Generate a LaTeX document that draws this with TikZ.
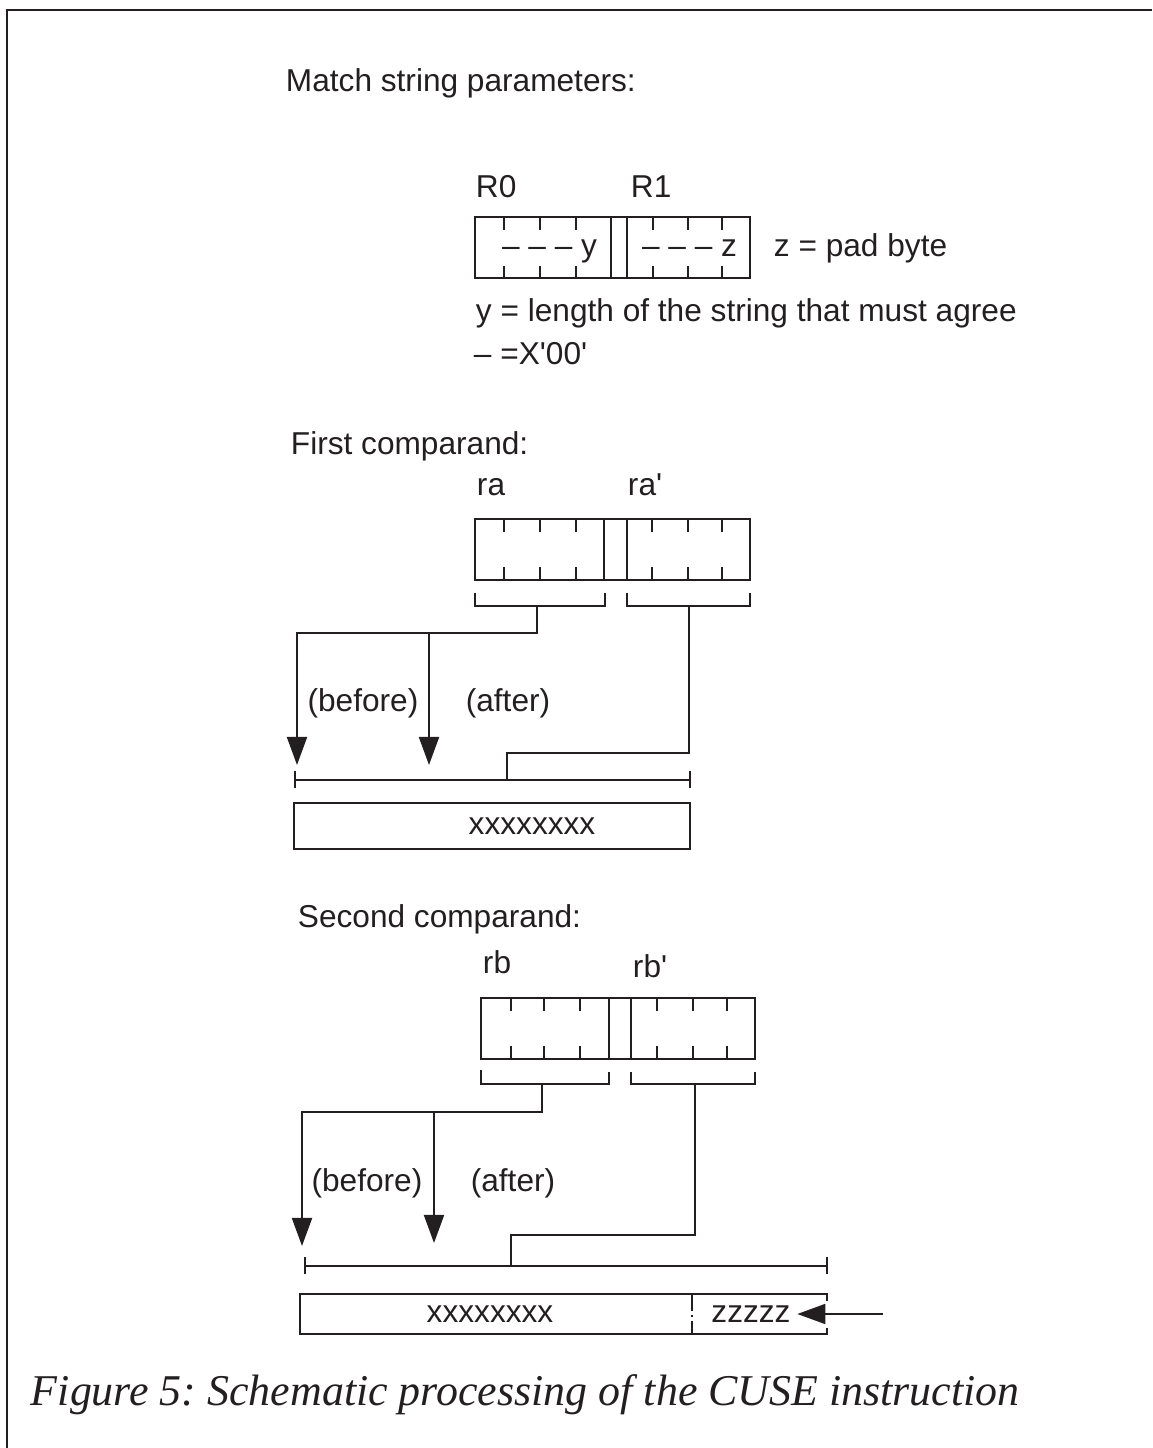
\documentclass[tikz,border=0pt]{standalone}
\usepackage{fontspec}
\setmainfont{Liberation Sans}
\newfontfamily\capfont{Liberation Serif}
\usetikzlibrary{arrows.meta}
\definecolor{CUInk}{HTML}{231F20}

\begin{document}
\begin{tikzpicture}[x=1cm,y=1cm,color=CUInk,line width=1.1pt,
  font=\fontsize{18}{22}\selectfont,
  lbl/.style={anchor=base west,inner sep=0pt},
  feedarrow/.style={-{Triangle[length=0.56cm,width=0.40cm]}},
  rangebar/.style={{Bar[width=0.34cm]}-{Bar[width=0.34cm]}}]
\path[use as bounding box] (0,0) rectangle (23.04,28.96);
\draw (0.14,0) -- (0.14,28.76) -- (23.04,28.76);
% match string parameters
\node[lbl] (mtitle) at (5.70,27.12) {Match string parameters:};
\node[lbl] (r0) at (9.50,25.00) {R0};
\node[lbl] (r1) at (12.60,25.00) {R1};
\draw (9.50,23.40) rectangle (15.00,24.62);
\draw (12.22,23.40) -- (12.22,24.62) (12.54,23.40) -- (12.54,24.62);
\draw (10.08,24.62) -- (10.08,24.36) (10.80,24.62) -- (10.80,24.36) (11.52,24.62) -- (11.52,24.36)
      (13.06,24.62) -- (13.06,24.36) (13.76,24.62) -- (13.76,24.36) (14.44,24.62) -- (14.44,24.36)
      (10.08,23.40) -- (10.08,23.64) (10.80,23.40) -- (10.80,23.64) (11.52,23.40) -- (11.52,23.64)
      (13.06,23.40) -- (13.06,23.64) (13.76,23.40) -- (13.76,23.64) (14.44,23.40) -- (14.44,23.64);
\node[lbl,anchor=base east] (ylen) at (11.96,23.82) {– – – y};
\node[lbl,anchor=base east] (zbyte) at (14.76,23.82) {– – – z};
\node[lbl] (padnote) at (15.46,23.82) {z = pad byte};
\node[lbl] (ynote) at (9.50,22.52) {y = length of the string that must agree};
\node[lbl] (zeronote) at (9.46,21.66) {– =X\textquotesingle 00\textquotesingle};
% first comparand
\node[lbl] (ftitle) at (5.80,19.86) {First comparand:};
\node[lbl] (ra) at (9.52,19.04) {ra};
\node[lbl] (rap) at (12.54,19.04) {ra\textquotesingle};
\draw (9.50,17.36) rectangle (15.00,18.58);
\draw (12.08,17.36) -- (12.08,18.58) (12.54,17.36) -- (12.54,18.58);
\draw (10.08,18.58) -- (10.08,18.32) (10.80,18.58) -- (10.80,18.32) (11.52,18.58) -- (11.52,18.32)
      (13.04,18.58) -- (13.04,18.32) (13.76,18.58) -- (13.76,18.32) (14.44,18.58) -- (14.44,18.32)
      (10.08,17.36) -- (10.08,17.62) (10.80,17.36) -- (10.80,17.62) (11.52,17.36) -- (11.52,17.62)
      (13.04,17.36) -- (13.04,17.62) (13.76,17.36) -- (13.76,17.62) (14.44,17.36) -- (14.44,17.62);
\draw (9.50,17.10) |- (12.10,16.84) -- (12.10,17.10);
\draw (12.54,17.10) |- (15.00,16.84) -- (15.00,17.10);
\coordinate (stemA) at (10.74,16.84);
\coordinate (forkA) at (10.74,16.30);
\coordinate (befA) at (5.94,13.66);
\coordinate (aftA) at (8.58,13.66);
\coordinate (stemAp) at (13.78,16.84);
\coordinate (bendAp) at (13.78,13.90);
\coordinate (hitA) at (10.14,13.36);
\coordinate (rngA0) at (5.88,13.36);
\coordinate (rngA1) at (13.82,13.36);
\draw[feedarrow] (stemA) -- (forkA) -| (befA);
\draw[feedarrow] (aftA |- forkA) -- (aftA);
\draw (stemAp) -- (bendAp) -| (hitA);
\draw[rangebar] (rngA0) -- (rngA1);
\node (befAlbl) at (7.26,14.90) {(before)};
\node (aftAlbl) at (10.16,14.90) {(after)};
\draw (5.88,11.98) rectangle (13.80,12.90);
\node (dataA) at (10.64,12.44) {xxxxxxxx};
% second comparand
\node[lbl] (stitle) at (5.94,10.40) {Second comparand:};
\node[lbl] (rb) at (9.64,9.48) {rb};
\node[lbl] (rbp) at (12.64,9.40) {rb\textquotesingle};
\draw (9.62,7.78) rectangle (15.10,9.00);
\draw (12.18,7.78) -- (12.18,9.00) (12.62,7.78) -- (12.62,9.00);
\draw (10.22,9.00) -- (10.22,8.74) (10.88,9.00) -- (10.88,8.74) (11.60,9.00) -- (11.60,8.74)
      (13.14,9.00) -- (13.14,8.74) (13.86,9.00) -- (13.86,8.74) (14.54,9.00) -- (14.54,8.74)
      (10.22,7.78) -- (10.22,8.04) (10.88,7.78) -- (10.88,8.04) (11.60,7.78) -- (11.60,8.04)
      (13.14,7.78) -- (13.14,8.04) (13.86,7.78) -- (13.86,8.04) (14.54,7.78) -- (14.54,8.04);
\draw (9.62,7.56) |- (12.18,7.28) -- (12.18,7.52);
\draw (12.62,7.52) |- (15.10,7.28) -- (15.10,7.52);
\coordinate (stemB) at (10.84,7.28);
\coordinate (forkB) at (10.84,6.72);
\coordinate (befB) at (6.04,4.04);
\coordinate (aftB) at (8.68,4.10);
\coordinate (stemBp) at (13.90,7.28);
\coordinate (bendBp) at (13.90,4.26);
\coordinate (hitB) at (10.22,3.64);
\coordinate (rngB0) at (6.08,3.64);
\coordinate (rngB1) at (16.56,3.64);
\draw[feedarrow] (stemB) -- (forkB) -| (befB);
\draw[feedarrow] (aftB |- forkB) -- (aftB);
\draw (stemBp) -- (bendBp) -| (hitB);
\draw[rangebar] (rngB0) -- (rngB1);
\node (befBlbl) at (7.34,5.30) {(before)};
\node (aftBlbl) at (10.26,5.30) {(after)};
\draw (16.54,2.94) -- (16.54,3.08) -- (6.00,3.08) -- (6.00,2.28) -- (16.54,2.28) -- (16.54,2.40);
\draw (13.84,3.08) -- (13.84,2.74) (13.84,2.66) -- (13.84,2.62) (13.84,2.54) -- (13.84,2.28);
\node (dataB) at (9.80,2.68) {xxxxxxxx};
\node (padB) at (15.02,2.68) {zzzzz};
\coordinate (padin) at (17.66,2.68);
\draw[feedarrow] (padin) -- (padB.east);
% caption
\node[lbl,font=\capfont\itshape\fontsize{25}{30}\selectfont] (caption) at (0.60,0.84)
  {Figure 5:\ Schematic processing of the CUSE instruction};
\end{tikzpicture}
\end{document}
